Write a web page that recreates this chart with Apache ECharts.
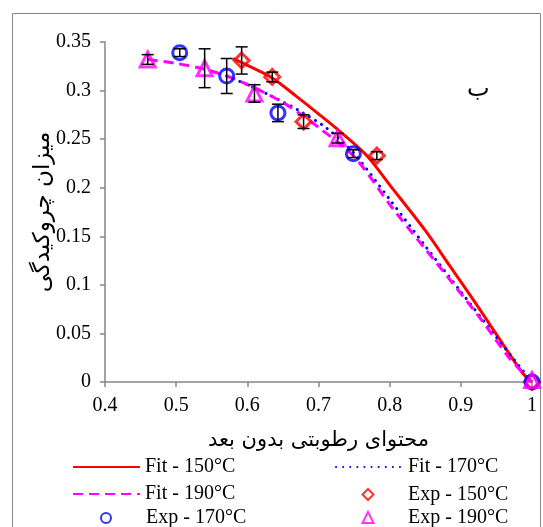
<!DOCTYPE html>
<html>
<head>
<meta charset="utf-8">
<script src="https://cdn.jsdelivr.net/npm/echarts@6/dist/echarts.min.js"></script>
<style>
html,body{margin:0;padding:0;background:#fff;}
#chart{width:543px;height:527px;}
</style>
</head>
<body>
<div id="chart"></div>
<script>
// tick labels / names
var xTitle = 'محتوای رطوبتی بدون بعد';
var yTitle = 'میزان چروکیدگی';
var panelLabel = 'ب';

// fitted curves
var fit150X = [0.58, 0.60, 0.635, 0.669, 0.70, 0.73, 0.768, 0.80, 0.85, 0.885, 0.92, 0.95, 0.987, 1.0];
var fit150Y = [0.333, 0.326, 0.313, 0.294, 0.276, 0.258, 0.233, 0.203, 0.156, 0.119, 0.082, 0.049, 0.009, 0];

var fit170X = [0.571, 0.60, 0.635, 0.676, 0.712, 0.749, 0.80, 0.85, 0.90, 0.95, 1.0];
var fit170Y = [0.315, 0.306, 0.294, 0.278, 0.261, 0.236, 0.188, 0.140, 0.093, 0.046, 0];

var fit190X = [0.46, 0.50, 0.54, 0.571, 0.61, 0.656, 0.702, 0.75, 0.805, 0.85, 0.885, 0.93, 0.969, 1.0];
var fit190Y = [0.332, 0.328, 0.322, 0.315, 0.303, 0.285, 0.261, 0.232, 0.178, 0.137, 0.105, 0.063, 0.024, 0];

// experimental points and error bars
var exp150X = [0.592, 0.635, 0.679, 0.782, 1.0];
var exp150Y = [0.331, 0.314, 0.268, 0.233, 0];
var exp150E = [0.014, 0.005, 0.007, 0.004, 0];

var exp170X = [0.505, 0.571, 0.643, 0.749, 1.0];
var exp170Y = [0.339, 0.315, 0.277, 0.235, 0];
var exp170E = [0.004, 0.018, 0.009, 0.004, 0];

var exp190X = [0.46, 0.54, 0.61, 0.727, 1.0];
var exp190Y = [0.332, 0.323, 0.297, 0.251, 0.002];
var exp190E = [0.005, 0.020, 0.009, 0.005, 0];

function zip(xs, ys){
	var out = [];
	for (var i = 0; i < xs.length; i++) out.push([xs[i], ys[i]]);
	return out;
}

function errData(xs, ys, es){
	var out = [];
	for (var i = 0; i < xs.length; i++) {
		if (es[i] > 0) out.push([xs[i], ys[i] - es[i], ys[i] + es[i]]);
	}
	return out;
}

function renderErr(params, api){
	var lo = api.coord([api.value(0), api.value(1)]);
	var hi = api.coord([api.value(0), api.value(2)]);
	var w = 6;
	var st = {stroke: '#000', lineWidth: 1.5};
	return {
		type: 'group',
		children: [
			{type: 'line', shape: {x1: lo[0], y1: lo[1], x2: hi[0], y2: hi[1]}, style: st},
			{type: 'line', shape: {x1: lo[0]-w, y1: lo[1], x2: lo[0]+w, y2: lo[1]}, style: st},
			{type: 'line', shape: {x1: hi[0]-w, y1: hi[1], x2: hi[0]+w, y2: hi[1]}, style: st}
		]
	};
}

var FONT = 'Liberation Serif';
var AR_FONT = 'DejaVu Sans';
var AXIS_COLOR = '#868686';

var myChart = echarts.init(document.getElementById('chart'), null, {renderer: 'canvas'});

// line legend: long line icon, hide the circle ECharts puts on it
function lineLegend(name, left, top){
	return {
		data: [name], left: left, top: top, padding: 0,
		itemWidth: 67, itemHeight: 12, selectedMode: false,
		itemStyle: {opacity: 0},
		textStyle: {fontFamily: FONT, fontSize: 20, color: '#000'}
	};
}

// marker legend: square icon centred at cx, text starting at tx
function markLegend(name, cx, tx, top, size){
	return {
		data: [name], left: cx - size / 2, top: top + (12 - size) / 2, padding: 0,
		itemWidth: size, itemHeight: size, selectedMode: false,
		itemStyle: {borderWidth: 2},
		textStyle: {fontFamily: FONT, fontSize: 20, color: '#000',
			padding: [0, 0, 0, tx - (cx + size / 2) - 5]}
	};
}

myChart.setOption({
	animation: false,
	backgroundColor: '#fff',
	grid: {left: 105, right: 11, top: 42, bottom: 145, containLabel: false},
	title: {
		text: panelLabel,
		left: 467,
		top: 78,
		padding: 0,
		textStyle: {fontFamily: AR_FONT, fontSize: 24, fontWeight: 'normal', color: '#000'}
	},
	legend: [
		lineLegend('Fit - 150°C', 72, 457),
		lineLegend('Fit - 170°C', 335, 457),
		lineLegend('Fit - 190°C', 72, 484),
		markLegend('Exp - 150°C', 367, 407, 484, 11),
		markLegend('Exp - 170°C', 105, 145, 507, 10),
		markLegend('Exp - 190°C', 367, 407, 507, 11)
	],
	graphic: [
		{type: 'rect', silent: true, z: -1,
			shape: {x: 12.5, y: 13.5, width: 528, height: 530},
			style: {fill: 'none', stroke: AXIS_COLOR, lineWidth: 1}}
	],
	xAxis: {
		type: 'value',
		min: 0.4,
		max: 1,
		interval: 0.1,
		name: xTitle,
		nameLocation: 'middle',
		nameGap: 48,
		nameTextStyle: {fontFamily: AR_FONT, fontSize: 21, color: '#000'},
		axisLine: {show: true, lineStyle: {color: AXIS_COLOR, width: 1.5}},
		axisTick: {show: true, inside: false, length: 5, lineStyle: {color: AXIS_COLOR, width: 1.5}},
		axisLabel: {fontFamily: FONT, fontSize: 20, color: '#000', margin: 14},
		splitLine: {show: false}
	},
	yAxis: {
		type: 'value',
		min: 0,
		max: 0.35,
		interval: 0.05,
		name: yTitle,
		nameLocation: 'middle',
		nameRotate: 90,
		nameGap: 50,
		nameMoveOverlap: false,
		nameTextStyle: {fontFamily: AR_FONT, fontSize: 23, color: '#000'},
		axisLine: {show: true, lineStyle: {color: AXIS_COLOR, width: 1.5}},
		axisTick: {show: true, inside: false, length: 5, lineStyle: {color: AXIS_COLOR, width: 1.5}},
		axisLabel: {fontFamily: FONT, fontSize: 20, color: '#000', margin: 14},
		splitLine: {show: false}
	},
	series: [
		{
			name: 'Fit - 150°C', type: 'line', data: zip(fit150X, fit150Y),
			smooth: 0.3, symbol: 'none', z: 3,
			lineStyle: {color: '#ff0000', width: 3},
			itemStyle: {color: '#ff0000'}
		},
		{
			name: 'Fit - 170°C', type: 'line', data: zip(fit170X, fit170Y),
			smooth: 0.3, symbol: 'none', z: 3,
			lineStyle: {color: '#0000ff', width: 3, type: [0.1, 7], cap: 'round'},
			itemStyle: {color: '#0000ff'}
		},
		{
			name: 'Fit - 190°C', type: 'line', data: zip(fit190X, fit190Y),
			smooth: 0.3, symbol: 'none', z: 3,
			lineStyle: {color: '#ff00ff', width: 3, type: [10, 6]},
			itemStyle: {color: '#ff00ff'}
		},
		{
			name: 'Exp - 150°C', type: 'scatter', data: zip(exp150X, exp150Y),
			symbol: 'diamond', symbolSize: 15, z: 4,
			itemStyle: {color: 'rgba(255,255,255,0)', borderColor: '#ff0000', borderWidth: 3}
		},
		{
			name: 'Exp - 170°C', type: 'scatter', data: zip(exp170X, exp170Y),
			symbol: 'circle', symbolSize: 14, z: 4,
			itemStyle: {color: 'rgba(255,255,255,0)', borderColor: '#0000ff', borderWidth: 3}
		},
		{
			name: 'Exp - 190°C', type: 'scatter', data: zip(exp190X, exp190Y),
			symbol: 'triangle', symbolSize: 15, z: 4,
			itemStyle: {color: 'rgba(255,255,255,0)', borderColor: '#ff00ff', borderWidth: 3}
		},
		{
			type: 'custom', renderItem: renderErr, z: 5, silent: true,
			data: errData(exp150X, exp150Y, exp150E).concat(errData(exp170X, exp170Y, exp170E), errData(exp190X, exp190Y, exp190E))
		}
	]
});
</script>
</body>
</html>
